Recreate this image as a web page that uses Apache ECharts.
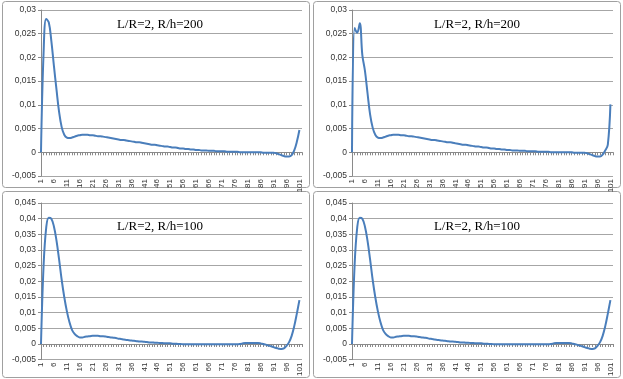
<!DOCTYPE html>
<html><head><meta charset="utf-8">
<script src="https://cdn.jsdelivr.net/npm/echarts@6/dist/echarts.min.js"></script>
<style>html,body{margin:0;padding:0;background:#fff}#c{width:623px;height:379px}</style>
</head><body><div id="c"></div>
<script>
// categories 1..101 (plus one blank slot so the plot ends past 101 like the original)
const categories = ["1","2","3","4","5","6","7","8","9","10","11","12","13","14","15","16","17","18","19","20","21","22","23","24","25","26","27","28","29","30","31","32","33","34","35","36","37","38","39","40","41","42","43","44","45","46","47","48","49","50","51","52","53","54","55","56","57","58","59","60","61","62","63","64","65","66","67","68","69","70","71","72","73","74","75","76","77","78","79","80","81","82","83","84","85","86","87","88","89","90","91","92","93","94","95","96","97","98","99","100","101",""];

const titles = ["L/R=2, R/h=200", "L/R=2, R/h=200", "L/R=2, R/h=100", "L/R=2, R/h=100"];

const seriesA = [0,0.021,0.0281,0.0274,0.0235,0.0182,0.0132,0.0085,0.0053,0.0037,
0.0031,0.0030,0.0031,0.0033,0.0035,0.0036,0.0037,0.0037,0.0037,0.0036,
0.0036,0.0035,0.0034,0.0034,0.0033,0.0032,0.0031,0.0030,0.0029,0.0028,
0.0027,0.0026,0.0026,0.0025,0.0024,0.0023,0.0022,0.0021,0.0021,0.0020,
0.0019,0.0018,0.0017,0.0016,0.0016,0.0015,0.0014,0.0013,0.0012,0.0012,
0.0011,0.0010,0.0010,0.0009,0.0008,0.0008,0.0007,0.0007,0.0006,0.0006,
0.0005,0.0005,0.0004,0.0004,0.0004,0.0003,0.0003,0.0003,0.0002,0.0002,
0.0002,0.0002,0.0001,0.0001,0.0001,0.0001,0.0001,0,0,0,
0,0,0,0,0,0,-0.0001,-0.0001,-0.0001,-0.0001,
-0.0001,-0.0002,-0.0004,-0.0006,-0.0008,-0.0009,-0.0009,-0.0006,0.0004,0.0022,
0.0047];

const seriesB = [0,0.0262,0.0252,0.0272,0.0205,0.0172,0.0125,0.0080,0.0052,0.0037,
0.0031,0.0030,0.0031,0.0033,0.0035,0.0036,0.0037,0.0037,0.0037,0.0036,
0.0036,0.0035,0.0034,0.0034,0.0033,0.0032,0.0031,0.0030,0.0029,0.0028,
0.0027,0.0026,0.0026,0.0025,0.0024,0.0023,0.0022,0.0021,0.0021,0.0020,
0.0019,0.0018,0.0017,0.0016,0.0016,0.0015,0.0014,0.0013,0.0012,0.0012,
0.0011,0.0010,0.0010,0.0009,0.0008,0.0008,0.0007,0.0007,0.0006,0.0006,
0.0005,0.0005,0.0004,0.0004,0.0004,0.0003,0.0003,0.0003,0.0002,0.0002,
0.0002,0.0002,0.0001,0.0001,0.0001,0.0001,0.0001,0,0,0,
0,0,0,0,0,0,-0.0001,-0.0001,-0.0001,-0.0001,
-0.0001,-0.0002,-0.0004,-0.0006,-0.0008,-0.0009,-0.0009,-0.0005,0.0004,0.0016,
0.0101];

const seriesC = [0,0.025,0.037,0.0403,0.0400,0.0375,0.0330,0.0270,0.0205,0.0150,
0.0105,0.0070,0.0045,0.0032,0.0025,0.0021,0.0021,0.0023,0.0024,0.0025,
0.0026,0.0026,0.0026,0.0025,0.0025,0.0024,0.0022,0.0021,0.0020,0.0019,
0.0017,0.0016,0.0014,0.0013,0.0012,0.0011,0.0010,0.0009,0.0008,0.0008,
0.0007,0.0006,0.0005,0.0005,0.0004,0.0004,0.0003,0.0003,0.0002,0.0002,
0.0002,0.0001,0.0001,0,0,-0.0001,-0.0001,-0.0001,-0.0001,-0.0001,
-0.0001,-0.0001,-0.0001,-0.0001,-0.0001,-0.0001,-0.0001,-0.0001,-0.0001,-0.0001,
-0.0001,-0.0001,-0.0001,-0.0001,-0.0001,-0.0001,-0.0001,0,0.0002,0.0003,
0.0003,0.0003,0.0003,0.0003,0.0003,0.0002,0,-0.0002,-0.0005,-0.0007,
-0.0010,-0.0013,-0.0015,-0.0016,-0.0014,-0.0006,0.0006,0.0026,0.0057,0.0097,
0.0140];

const seriesD = [0,0.025,0.037,0.0403,0.0400,0.0375,0.0330,0.0270,0.0205,0.0150,
0.0105,0.0070,0.0045,0.0032,0.0025,0.0021,0.0021,0.0023,0.0024,0.0025,
0.0026,0.0026,0.0026,0.0025,0.0025,0.0024,0.0022,0.0021,0.0020,0.0019,
0.0017,0.0016,0.0014,0.0013,0.0012,0.0011,0.0010,0.0009,0.0008,0.0008,
0.0007,0.0006,0.0005,0.0005,0.0004,0.0004,0.0003,0.0003,0.0002,0.0002,
0.0002,0.0001,0.0001,0,0,-0.0001,-0.0001,-0.0001,-0.0001,-0.0001,
-0.0001,-0.0001,-0.0001,-0.0001,-0.0001,-0.0001,-0.0001,-0.0001,-0.0001,-0.0001,
-0.0001,-0.0001,-0.0001,-0.0001,-0.0001,-0.0001,-0.0001,0,0.0002,0.0003,
0.0003,0.0003,0.0003,0.0003,0.0003,0.0002,0,-0.0002,-0.0005,-0.0007,
-0.0010,-0.0013,-0.0015,-0.0016,-0.0014,-0.0006,0.0006,0.0026,0.0057,0.0097,
0.0140];

const yMaxTop = 0.03, yMaxBottom = 0.045, yMin = -0.005, yStep = 0.005;

const allSeries = [seriesA, seriesB, seriesC, seriesD];
const grids = [
  {left: 41, top: 10, width: 261, height: 166},
  {left: 352, top: 10, width: 261, height: 166},
  {left: 41, top: 203, width: 261, height: 161},
  {left: 352, top: 203, width: 261, height: 161}
];
const boxes = [[2,1],[313,1],[2,191],[313,191]];
const titlePos = [[160,25],[477,25],[160,227],[477,227]];

const fmt = v => String(+(+v).toFixed(4)).replace('.', ',');

const option = {
  animation: false,
  backgroundColor: '#fff',
  grid: grids,
  graphic: boxes.map(b => ({
    type: 'rect', shape: {x: b[0]+0.5, y: b[1]+0.5, width: 307, height: 186, r: 3},
    style: {fill: 'none', stroke: '#a0a0a0', lineWidth: 1}, z: -1
  })).concat(titlePos.map((p, i) => ({
    type: 'text', x: p[0], y: p[1],
    style: {text: titles[i], font: '13px "Liberation Serif", "Times New Roman", serif', fill: '#000', align: 'center', verticalAlign: 'middle'}
  }))),
  xAxis: grids.map((g, i) => ({
    type: 'category', gridIndex: i, data: categories, boundaryGap: false,
    axisLine: {onZero: true, lineStyle: {color: '#8a8a8a', width: 1}},
    axisTick: {show: true, interval: 0, length: 3, lineStyle: {color: '#8a8a8a'}},
    axisLabel: {interval: 4, rotate: 90, fontSize: 8, color: '#333', margin: 3,
      fontFamily: '"Liberation Sans", Arial, sans-serif'},
    splitLine: {show: false}
  })),
  yAxis: grids.map((g, i) => ({
    type: 'value', gridIndex: i, min: yMin, max: i < 2 ? yMaxTop : yMaxBottom, interval: yStep,
    axisLine: {show: true, lineStyle: {color: '#8a8a8a', width: 1}},
    axisTick: {show: true, length: 3, lineStyle: {color: '#8a8a8a'}},
    axisLabel: {fontSize: 8.5, color: '#333', margin: 5, formatter: fmt,
      fontFamily: '"Liberation Sans", Arial, sans-serif'},
    splitLine: {show: true, lineStyle: {color: '#a6a6a6', width: 1}}
  })),
  series: allSeries.map((d, i) => ({
    type: 'line', xAxisIndex: i, yAxisIndex: i, data: d, smooth: 0.4,
    showSymbol: false, symbol: 'none',
    lineStyle: {color: '#4a7ebb', width: 2}
  }))
};
echarts.init(document.getElementById('c'), null, {renderer: 'canvas'}).setOption(option);
</script></body></html>
